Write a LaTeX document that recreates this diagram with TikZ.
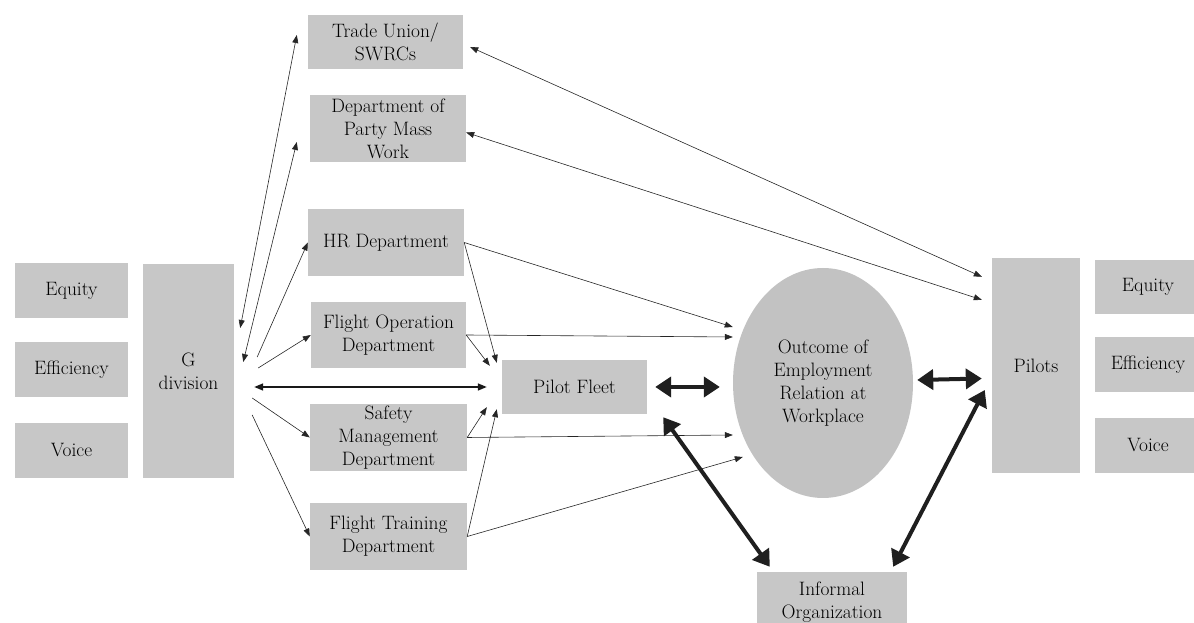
\documentclass[tikz,border=0pt]{standalone}
\usepackage{fontspec}
\usetikzlibrary{arrows.meta,calc,shapes.geometric}
\begin{document}
\begin{tikzpicture}[x=1pt,y=1pt,
        box/.style={fill=black!22,inner sep=0pt,align=center,text=black,font=\fontsize{19.4}{23}\selectfont},
        thinarr/.style={{Triangle[length=8pt,width=6pt]}-{Triangle[length=8pt,width=6pt]},line width=0.6pt,draw=black!85},
        onearr/.style={-{Triangle[length=8pt,width=6pt]},line width=0.6pt,draw=black!85},
        midarr/.style={{Triangle[length=9pt,width=7pt]}-{Triangle[length=9pt,width=7pt]},line width=1.5pt,draw=black!90},
        bigarr/.style={{Triangle[length=16pt,width=20pt]}-{Triangle[length=16pt,width=20pt]},line width=4pt,draw=black!88}]
            \useasboundingbox (0,0) rectangle (1194,623);
            \clip (0,0) rectangle (1194,623);
            \node [box,minimum width=113pt,minimum height=55pt] (eqL) at (71.5,332.5) {Equity};
            \node [box,minimum width=113pt,minimum height=55pt] (efL) at (71.5,253.5) {Efficiency};
            \node [box,minimum width=113pt,minimum height=55pt] (voL) at (71.5,172.5) {Voice};
            \node [box,minimum width=91pt,minimum height=214pt] (gdiv) at (188.5,252) {G\\division};
            \node [box,minimum width=155pt,minimum height=54pt] (tu) at (385.5,581) {Trade Union/\\SWRCs};
            \node [box,minimum width=156pt,minimum height=67pt] (party) at (388,494.5) {Department of\\Party Mass\\Work};
            \node [box,minimum width=156pt,minimum height=67pt] (hr) at (386,380.5) {HR Department};
            \node [box,minimum width=155pt,minimum height=66pt] (fop) at (388.5,288) {Flight Operation\\Department};
            \node [box,minimum width=157pt,minimum height=67pt] (safe) at (388.5,185.5) {Safety\\Management\\Department};
            \node [box,minimum width=157pt,minimum height=67pt] (ftr) at (388.5,86.5) {Flight Training\\Department};
            \node [box,minimum width=145pt,minimum height=54pt] (pf) at (574.5,236) {Pilot Fleet};
            \node [box,ellipse,minimum width=180pt,minimum height=230pt,fill=black!24] (ell) at (823,240) {Outcome of\\Employment\\Relation at\\Workplace};
            \node [box,minimum width=150pt,minimum height=60pt] (inf) at (832,21) {Informal\\Organization};
            \node [box,minimum width=88pt,minimum height=215pt] (pil) at (1036,257.5) {Pilots};
            \node [box,minimum width=106pt,minimum height=54pt] (eqR) at (1148,336) {Equity};
            \node [box,minimum width=106pt,minimum height=55pt] (efR) at (1148,258.5) {Efficiency};
            \node [box,minimum width=106pt,minimum height=55pt] (voR) at (1148,177.5) {Voice};
            \draw [thinarr] ($(gdiv.east)+(6,43)$) -- ($(tu.west)+(-11,7)$);
            \draw [thinarr] ($(gdiv.east)+(9,9)$) -- ($(party.west)+(-13,-13.5)$);
            \draw [onearr] ($(gdiv.east)+(23,14)$) -- (hr.west);
            \draw [onearr] ($(gdiv.east)+(24,3)$) -- (fop.west);
            \draw [onearr] ($(gdiv.east)+(18,-27)$) -- (safe.west);
            \draw [onearr] ($(gdiv.east)+(18,-44)$) -- (ftr.west);
            \draw [midarr] ($(gdiv.east)+(20,-16)$) -- ($(pf.west)+(-15,0)$);
            \draw [onearr] (hr.east) -- ($(pf.north west)+(-5,-3)$);
            \draw [onearr] (fop.east) -- ($(pf.north west)+(-12,-6)$);
            \draw [onearr] (safe.east) -- ($(pf.south west)+(-15,7)$);
            \draw [onearr] (ftr.east) -- ($(pf.south west)+(-5,5)$);
            \draw [onearr] (hr.east) -- ($(ell.west)+(0,56)$);
            \draw [onearr] (fop.east) -- ($(ell.west)+(0,46)$);
            \draw [onearr] (safe.east) -- ($(ell.west)+(0,-52)$);
            \draw [onearr] (ftr.east) -- ($(ell.west)+(10,-74)$);
            \draw [thinarr] ($(tu.east)+(7,-5)$) -- ($(pil.north west)+(-10,-19)$);
            \draw [thinarr] ($(party.east)+(0,-4)$) -- ($(pil.north west)+(-10,-42)$);
            \draw [bigarr] ($(pf.east)+(8,0)$) -- ($(ell.west)+(-13,-4)$);
            \draw [bigarr] ($(ell.east)+(4,3)$) -- ($(pil.west)+(-10,-13)$);
            \draw [bigarr] ($(pf.south east)+(16,-3)$) -- ($(inf.north west)+(13,5)$);
            \draw [bigarr] ($(pil.west)+(-7,-24.5)$) -- ($(inf.north east)+(-14,5)$);
        \end{tikzpicture}
\end{document}
